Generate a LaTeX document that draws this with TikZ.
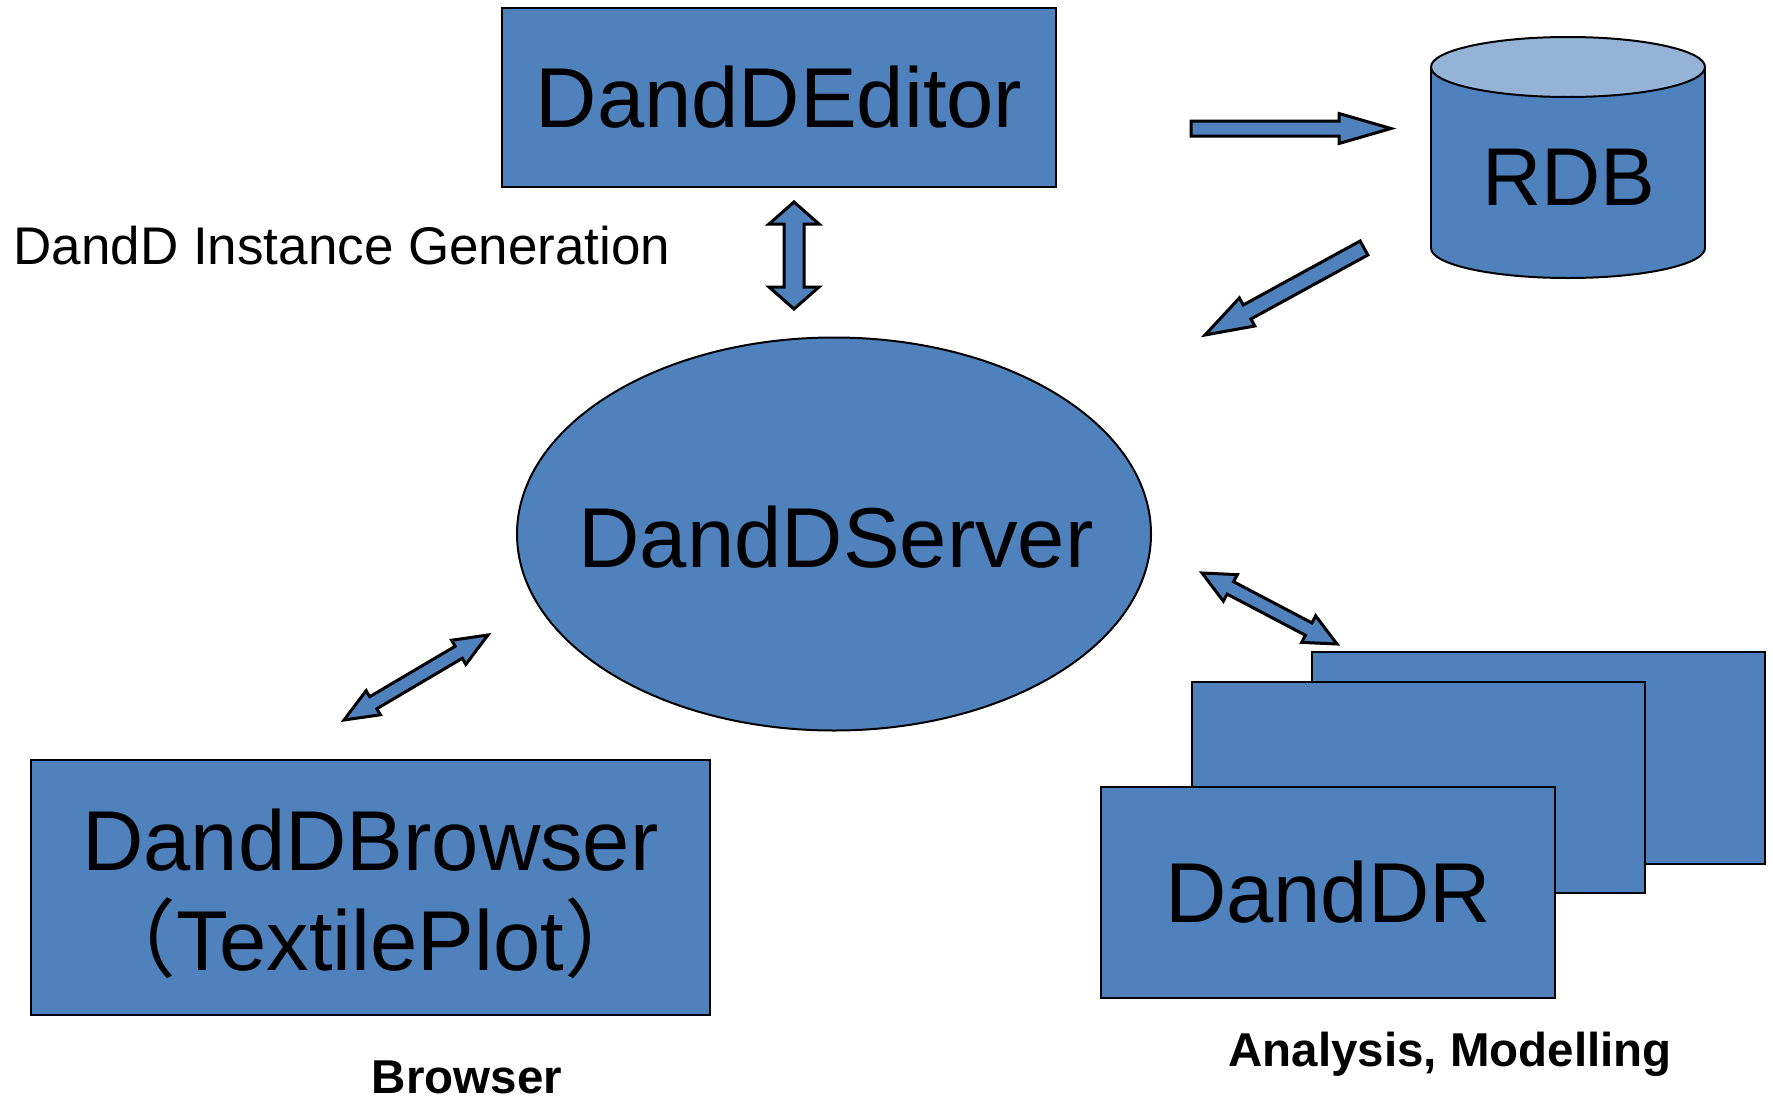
\documentclass[tikz,border=0pt]{standalone}
\usepackage{fontspec}
\setmainfont{Liberation Sans}
\newfontfamily\cjk{Noto Sans CJK SC}
\usetikzlibrary{calc,shapes.geometric}
\definecolor{dblue}{HTML}{4F81BD}
\definecolor{lblue}{HTML}{95B3D7}
% block arrow: tail, tip, shaft half width, head half width, head length
\newcommand\singlearrow[5]{%
  \coordinate (#1-#2-h) at ($(#2)!#5!(#1)$);
  \draw[blockarrow] ($(#1)!#3!90:(#2)$) -- ($(#1-#2-h)!#3!90:(#2)$)
    -- ($(#1-#2-h)!#4!90:(#2)$) -- (#2) -- ($(#1-#2-h)!#4!-90:(#2)$)
    -- ($(#1-#2-h)!#3!-90:(#2)$) -- ($(#1)!#3!-90:(#2)$) -- cycle;}
% double-headed block arrow: tip, tip, shaft half width, head half width, head length
\newcommand\doublearrow[5]{%
  \coordinate (#1-#2-a) at ($(#1)!#5!(#2)$);
  \coordinate (#1-#2-b) at ($(#2)!#5!(#1)$);
  \draw[blockarrow] (#1) -- ($(#1-#2-a)!#4!90:(#2)$) -- ($(#1-#2-a)!#3!90:(#2)$)
    -- ($(#1-#2-b)!#3!-90:(#1)$) -- ($(#1-#2-b)!#4!-90:(#1)$) -- (#2)
    -- ($(#1-#2-b)!#4!90:(#1)$) -- ($(#1-#2-b)!#3!90:(#1)$)
    -- ($(#1-#2-a)!#3!-90:(#2)$) -- ($(#1-#2-a)!#4!-90:(#2)$) -- cycle;}
\tikzset{
  box/.style={draw=black, fill=dblue, line width=2pt, inner sep=0pt,
    font=\fontsize{85}{100}\selectfont, align=center},
  bigtext/.style={font=\fontsize{85}{100}\selectfont, align=center},
  blockarrow/.style={draw=black, fill=dblue, line width=3pt, line join=miter},
  caption/.style={font=\fontsize{47.5}{55}\selectfont\bfseries},
}
\begin{document}
\begin{tikzpicture}[x=1pt, y=-1pt]
\useasboundingbox (0,0) rectangle (1773,1103);

% editor
\node[box, minimum width=554pt, minimum height=179pt] (editor) at (779,97.5) {DandDEditor};

% relational database cylinder
\filldraw[fill=dblue, line width=2pt] (1568,248) ellipse[x radius=137, y radius=30];
\fill[dblue] (1431,67) rectangle (1705,248);
\draw[line width=2pt] (1431,67) -- (1431,248) (1705,67) -- (1705,248);
\filldraw[fill=lblue, line width=2pt] (1568,67) ellipse[x radius=137, y radius=30];
\node[font=\fontsize{82}{96}\selectfont] (rdb) at (1569,177) {RDB};

% server
\node[box, ellipse, minimum width=634pt, minimum height=393pt] (server) at (834,534) {};
\node[bigtext] (servertext) at ([xshift=2pt,yshift=-3pt]server.center) {DandDServer};

% browser
\node[box, minimum width=679pt, minimum height=255pt] (browser) at (370.5,887.5) {};
\node[bigtext] (browsertext) at ([yshift=-6pt]browser.center)
  {DandDBrowser\\{\cjk （}TextilePlot{\cjk ）}};

% stacked analysis boxes
\node[box, minimum width=453pt, minimum height=212pt] (rback) at (1538.5,758) {};
\node[box, minimum width=453pt, minimum height=211pt] (rmid) at (1418.5,787.5) {};
\node[box, minimum width=454pt, minimum height=211pt] (rfront) at (1328,892.5) {DandDR};

% labels
\node[anchor=west, font=\fontsize{53}{60}\selectfont] (gen) at (10,246) {DandD Instance Generation};
\node[caption] (analysis) at (1450,1054) {Analysis, Modelling};
\node[caption] (browsercap) at (467,1077) {Browser};

% arrow end points
\coordinate (e1) at (1191,128.5);
\coordinate (e2) at (1391,128.5);
\coordinate (r1) at (1364,248);
\coordinate (r2) at (1205,335);
\coordinate (v1) at (794,202);
\coordinate (v2) at (794,309);
\coordinate (b1) at (344,720);
\coordinate (b2) at (488,635);
\coordinate (a1) at (1202,573);
\coordinate (a2) at (1337,644);

\singlearrow{e1}{e2}{7.5pt}{15pt}{52pt}
\singlearrow{r1}{r2}{8pt}{16pt}{48pt}
\doublearrow{v1}{v2}{10pt}{25pt}{22pt}
\doublearrow{b1}{b2}{7pt}{14pt}{34pt}
\doublearrow{a1}{a2}{7pt}{15pt}{32pt}
\end{tikzpicture}
\end{document}
